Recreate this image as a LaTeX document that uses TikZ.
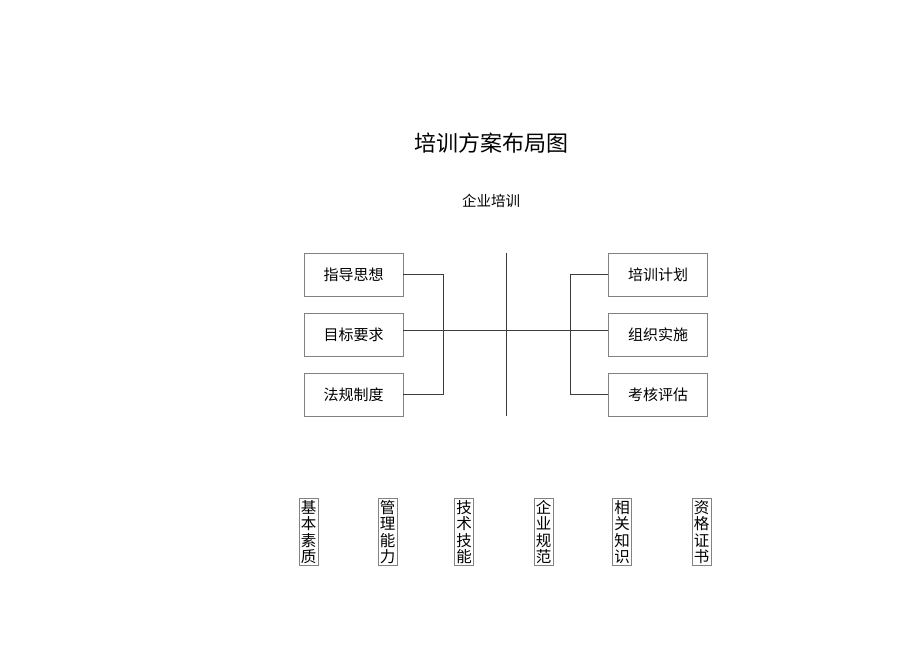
\documentclass[tikz,border=0pt]{standalone}
\usepackage{fontspec}
\setmainfont{Noto Sans CJK SC}
\usepackage{xcolor}
\usetikzlibrary{calc}

\definecolor{boxgray}{RGB}{130,130,130}
\definecolor{linegray}{RGB}{60,60,60}

\tikzset{
  itembox/.style = {draw=boxgray, thin, minimum width=99pt, minimum height=43pt,
                    inner sep=0pt, font=\fontsize{15}{15}\selectfont},
  vertbox/.style = {draw=boxgray, thin, minimum width=19pt, minimum height=67pt,
                    inner sep=0pt, text width=16pt, align=center,
                    font=\fontsize{15.5}{16.5}\selectfont},
  link/.style    = {draw=linegray, thin}
}

\begin{document}
\begin{tikzpicture}[x=1pt, y=-1pt]
\useasboundingbox (0,0) rectangle (920,651);
% titles
\node (title) at (491,143) {\fontsize{22}{24}\selectfont 培训方案布局图};
\node (sub)   at (491,201) {\fontsize{14.5}{16}\selectfont 企业培训};
% left boxes
\node[itembox] (zd) at (353.5,274.5) {指导思想};
\node[itembox] (mb) at (353.5,334.5) {目标要求};
\node[itembox] (fg) at (353.5,394.5) {法规制度};
% right boxes
\node[itembox] (jh) at (658,274.5) {培训计划};
\node[itembox] (ss) at (658,334.5) {组织实施};
\node[itembox] (pg) at (658,394.5) {考核评估};
% centre line
\coordinate (ctop) at (506,253);
\coordinate (cbot) at (506,416);
\draw[link] (ctop) -- (cbot);
% brackets
\draw[link] (zd.east) -- ++(40,0) |- (fg.east);
\draw[link] (jh.west) -- ++(-38,0) |- (pg.west);
\draw[link] ([yshift=4pt]mb.east) -- ([yshift=4pt]ss.west);
% bottom row
\node[vertbox] (jb) at (308.5,532) {基\\本\\素\\质};
\node[vertbox] (gl) at (387.5,532) {管\\理\\能\\力};
\node[vertbox] (js) at (464,532)   {技\\术\\技\\能};
\node[vertbox] (gf) at (543.5,532) {企\\业\\规\\范};
\node[vertbox] (zs) at (622,532)   {相\\关\\知\\识};
\node[vertbox] (zg) at (701.5,532) {资\\格\\证\\书};
\end{tikzpicture}
\end{document}
